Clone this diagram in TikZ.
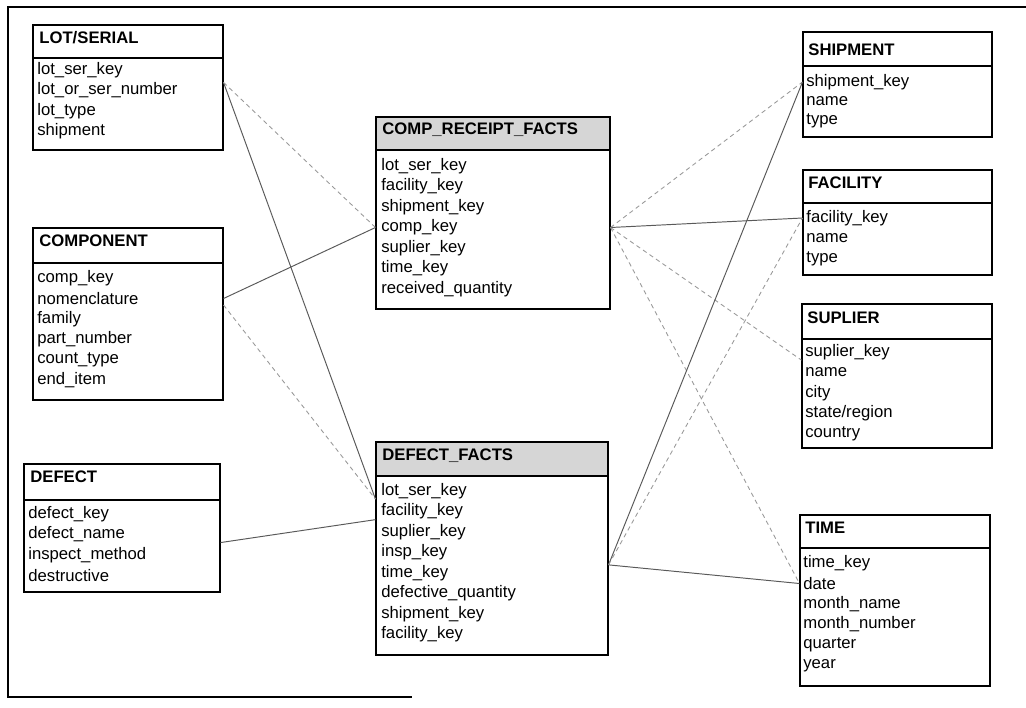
\documentclass[tikz,border=0pt]{standalone}
\usepackage{fontspec}
\setmainfont{Liberation Sans}
\usetikzlibrary{positioning,calc,fit}
\colorlet{linkdark}{black!65}
\colorlet{linkfaint}{black!40}
\colorlet{factshade}{black!16}

\begin{document}
\begin{tikzpicture}[x=.02cm,y=-.02cm,every node/.style={font=\fontsize{9.5}{11}\selectfont},
    tbl/.style={draw,line width=.6pt,inner sep=0pt},
    rule/.style={line width=.6pt},
    hdr/.style={anchor=west,inner sep=0pt,font=\fontsize{9.5}{11}\selectfont\bfseries},
    fld/.style={anchor=west,inner sep=0pt},
    link/.style={draw=linkdark,line width=.55pt},
    faint/.style={draw=linkfaint,line width=.5pt,dash pattern=on 2.5pt off 2pt}]
  \useasboundingbox (0,0) rectangle (1026,707);
  \draw[rule] (1026,7) -- (8,7) -- (8,697) -- (412,697);

  \node[tbl,fit={(33,25) (223,150)}] (lot) {};
  \draw[rule] (33,58) -- (223,58);
  \node[hdr] (lot-h) at (39,38) {LOT/SERIAL};
  \foreach \f [count=\i] in {lot\_ser\_key,lot\_or\_ser\_number,lot\_type,shipment}
    \node[fld] (lot-\i) at (37,49.5+20.5*\i) {\f};

  \node[tbl,fit={(33,228) (223,400)}] (comp) {};
  \draw[rule] (33,263) -- (223,263);
  \node[hdr] (comp-h) at (39,241) {COMPONENT};
  \foreach \f [count=\i] in {comp\_key,nomenclature,family,part\_number,count\_type,end\_item}
    \node[fld] (comp-\i) at (37,257.5+20.5*\i) {\f};

  \node[tbl,fit={(24,464) (220,592)}] (def) {};
  \draw[rule] (24,500) -- (220,500);
  \node[hdr] (def-h) at (30,477) {DEFECT};
  \foreach \f [count=\i] in {defect\_key,defect\_name,inspect\_method,destructive}
    \node[fld] (def-\i) at (28,493.5+20.5*\i) {\f};

  \fill[factshade] (376,117) rectangle (610,150);
  \node[tbl,fit={(376,117) (610,309)}] (crf) {};
  \draw[rule] (376,150) -- (610,150);
  \node[hdr] (crf-h) at (382,130) {COMP\_RECEIPT\_FACTS};
  \foreach \f [count=\i] in {lot\_ser\_key,facility\_key,shipment\_key,comp\_key,suplier\_key,time\_key,received\_quantity}
    \node[fld] (crf-\i) at (381,145.5+20.5*\i) {\f};

  \fill[factshade] (376,442) rectangle (608,476);
  \node[tbl,fit={(376,442) (608,655)}] (df) {};
  \draw[rule] (376,476) -- (608,476);
  \node[hdr] (df-h) at (382,456) {DEFECT\_FACTS};
  \foreach \f [count=\i] in {lot\_ser\_key,facility\_key,suplier\_key,insp\_key,time\_key,defective\_quantity,shipment\_key,facility\_key}
    \node[fld] (df-\i) at (381,470.5+20.5*\i) {\f};

  \node[tbl,fit={(803,32) (992,137)}] (ship) {};
  \draw[rule] (803,66) -- (992,66);
  \node[hdr] (ship-h) at (808,50) {SHIPMENT};
  \foreach \f [count=\i] in {shipment\_key,name,type}
    \node[fld] (ship-\i) at (806,62.5+19.5*\i) {\f};

  \node[tbl,fit={(803,170) (992,275)}] (fac) {};
  \draw[rule] (803,203) -- (992,203);
  \node[hdr] (fac-h) at (808,183) {FACILITY};
  \foreach \f [count=\i] in {facility\_key,name,type}
    \node[fld] (fac-\i) at (806,197.5+20.5*\i) {\f};

  \node[tbl,fit={(802,304) (992,448)}] (sup) {};
  \draw[rule] (802,339) -- (992,339);
  \node[hdr] (sup-h) at (807,318) {SUPLIER};
  \foreach \f [count=\i] in {suplier\_key,name,city,state/region,country}
    \node[fld] (sup-\i) at (805,331.5+20.5*\i) {\f};

  \node[tbl,fit={(800,515) (990,686)}] (time) {};
  \draw[rule] (800,548) -- (990,548);
  \node[hdr] (time-h) at (805,528) {TIME};
  \foreach \f [count=\i] in {time\_key,date,month\_name,month\_number,quarter,year}
    \node[fld] (time-\i) at (803,542.5+20.5*\i) {\f};

  \draw[link] (lot.east |- lot-2.north) -- (df.west |- df-1.south);
  \draw[faint] (lot.east |- lot-2.north) -- (crf.west |- crf-4);
  \draw[link] (comp.east |- comp-2) -- (crf.west |- crf-4);
  \draw[faint] (comp.east |- comp-2.south) -- (df.west |- df-1.south);
  \draw[link] (def.east |- def-2.south) -- (df.west |- df-2.south);
  \draw[faint] (crf.east |- crf-4) -- (ship.west |- ship-1);
  \draw[link] (crf.east |- crf-4) -- (fac.west |- fac-1);
  \draw[faint] (crf.east |- crf-4) -- (sup.west |- sup-1.south);
  \draw[faint] (crf.east |- crf-4) -- (time.west |- time-2);
  \draw[link] (df.east |- df-5.north) -- (ship.west |- ship-1);
  \draw[faint] (df.east |- df-5.north) -- (fac.west |- fac-1);
  \draw[link] (df.east |- df-5.north) -- (time.west |- time-2);
\end{tikzpicture}
\end{document}
